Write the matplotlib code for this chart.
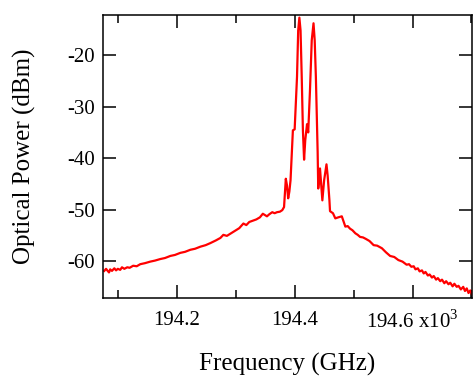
import matplotlib
matplotlib.use("Agg")
import matplotlib.pyplot as plt
from matplotlib.ticker import MultipleLocator

plt.rcParams['font.family'] = ['Liberation Serif', 'DejaVu Serif']
plt.rcParams['mathtext.fontset'] = 'custom'
plt.rcParams['mathtext.rm'] = 'Liberation Serif'
plt.rcParams['axes.unicode_minus'] = False

# spectrum (frequency in 10^3 GHz, power in dBm)
freq = [194.077, 194.080, 194.082, 194.085, 194.087, 194.090, 194.094, 194.097,
        194.100, 194.104, 194.107, 194.111, 194.116, 194.120, 194.126, 194.132,
        194.138, 194.146, 194.155, 194.163, 194.172, 194.180, 194.189, 194.197,
        194.206, 194.214, 194.223, 194.231, 194.240, 194.249, 194.257, 194.266,
        194.274, 194.279, 194.285, 194.292, 194.299, 194.306, 194.313, 194.318,
        194.323, 194.328, 194.335, 194.341, 194.346, 194.353, 194.357, 194.362,
        194.366, 194.370, 194.375, 194.379, 194.382, 194.385, 194.387, 194.389,
        194.391, 194.393, 194.397, 194.400, 194.402, 194.404, 194.406, 194.408,
        194.410, 194.412, 194.414, 194.416, 194.418, 194.421, 194.423, 194.426,
        194.429, 194.432, 194.434, 194.436, 194.439, 194.440, 194.443, 194.447,
        194.450, 194.454, 194.456, 194.459, 194.460, 194.465, 194.469, 194.474,
        194.480, 194.486, 194.490, 194.494, 194.498, 194.503, 194.507, 194.511,
        194.516, 194.521, 194.527, 194.534, 194.540, 194.548, 194.555, 194.562,
        194.569, 194.576, 194.583, 194.590, 194.594, 194.598, 194.602, 194.605,
        194.609, 194.612, 194.616, 194.619, 194.622, 194.626, 194.629, 194.633,
        194.636, 194.640, 194.643, 194.647, 194.650, 194.654, 194.657, 194.661,
        194.664, 194.668, 194.671, 194.675, 194.678, 194.682, 194.686, 194.689,
        194.692, 194.695, 194.698, 194.701, 194.704]
power = [-61.9, -61.5, -61.8, -62.2, -61.6, -61.9, -61.4, -61.8,
         -61.5, -61.7, -61.2, -61.5, -61.2, -61.3, -60.9, -61.0,
         -60.6, -60.4, -60.1, -59.9, -59.6, -59.4, -59.0, -58.8,
         -58.4, -58.2, -57.8, -57.6, -57.2, -56.9, -56.5, -56.0,
         -55.5, -54.9, -55.1, -54.6, -54.1, -53.6, -52.7, -53.0,
         -52.4, -52.2, -51.9, -51.5, -50.8, -51.3, -50.9, -50.5,
         -50.7, -50.5, -50.4, -50.1, -49.5, -44.0, -45.3, -47.8,
         -46.5, -44.3, -34.6, -34.4, -29.5, -24.2, -15.2, -12.7,
         -15.2, -24.2, -34.6, -40.3, -36.5, -33.4, -35.0, -26.8,
         -17.1, -13.8, -17.1, -24.2, -38.8, -45.9, -42.0, -48.2,
         -44.3, -41.2, -43.4, -48.2, -50.3, -50.7, -51.7, -51.5,
         -51.3, -53.3, -53.2, -53.7, -54.0, -54.6, -54.9, -55.3,
         -55.4, -55.7, -56.1, -56.9, -57.0, -57.5, -58.3, -59.0,
         -59.2, -59.8, -60.1, -60.7, -60.6, -61.1, -61.0, -61.6,
         -61.4, -62.0, -61.8, -62.4, -62.1, -62.8, -62.6, -63.2,
         -62.9, -63.6, -63.3, -63.9, -63.6, -64.3, -63.9, -64.5,
         -64.2, -64.9, -64.4, -65.0, -64.8, -65.5, -65.0, -65.8,
         -65.3, -66.2, -65.7, -66.5, -66.8]

xticks = [194.2, 194.4, 194.6]
xticklabels = ['194.2', '194.4', '194.6 x10$^{3}$']
yticks = [-60, -50, -40, -30, -20]

fig = plt.figure(figsize=(4.73, 3.76), dpi=100)
ax = fig.add_axes([0.218, 0.207, 0.78, 0.753])

ax.plot(freq, power, color='#ff0000', lw=1.6)

ax.set_xlim(194.075, 194.701)
ax.set_ylim(-67.2, -12.2)
ax.set_xticks(xticks)
ax.set_xticklabels(xticklabels)
ax.xaxis.set_minor_locator(MultipleLocator(0.1))
ax.set_yticks(yticks)

ax.tick_params(which='both', direction='in', top=True, right=True,
               width=1.1, labelsize=15)
ax.tick_params(axis='x', pad=9)
ax.tick_params(axis='y', pad=6)
ax.tick_params(which='major', length=9.5)
ax.tick_params(which='minor', length=5.5)
for s in ax.spines.values():
    s.set_linewidth(1.1)

ax.set_xlabel('Frequency (GHz)', fontsize=18, labelpad=14)
ax.set_ylabel('Optical Power (dBm)', fontsize=18, labelpad=22)

fig.savefig('out.png', dpi=100)
